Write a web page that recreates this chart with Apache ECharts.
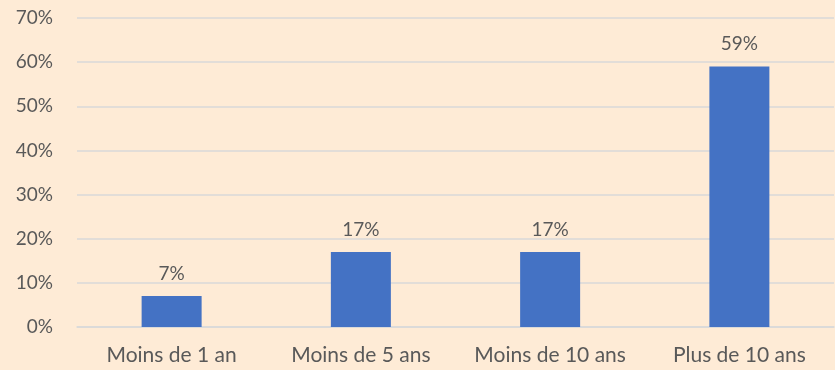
<!DOCTYPE html>
<html>
<head>
<meta charset="utf-8">
<script src="https://cdn.jsdelivr.net/npm/echarts@6/dist/echarts.min.js"></script>
<style>
  html, body { margin: 0; padding: 0; background: #FEEBD6; }
  #chart { width: 835px; height: 370px; }
</style>
</head>
<body>
<div id="chart"></div>
<script>
// Tranches d'ancienneté et part des répondants (%)
const categories = ['Moins de 1 an', 'Moins de 5 ans', 'Moins de 10 ans', 'Plus de 10 ans'];
const shares = [7, 17, 17, 59];
const yTicks = [0, 10, 20, 30, 40, 50, 60, 70];

const textColor = '#595959';
const fontFamily = 'Lato, "Open Sans", "Liberation Sans", sans-serif';

const chart = echarts.init(document.getElementById('chart'), null, { renderer: 'canvas' });
chart.setOption({
  backgroundColor: '#FEEBD6',
  animation: false,
  grid: { left: 77, right: 1, top: 18, bottom: 43, containLabel: false },
  xAxis: {
    type: 'category',
    data: categories,
    axisLine: { show: true, lineStyle: { color: '#D9D9D9', width: 1.5 } },
    axisTick: { show: false },
    axisLabel: { color: textColor, fontSize: 21, fontFamily, margin: 18, interval: 0, hideOverlap: false }
  },
  yAxis: {
    type: 'value',
    min: yTicks[0],
    max: yTicks[yTicks.length - 1],
    interval: 10,
    axisLine: { show: false },
    axisTick: { show: false },
    splitLine: { lineStyle: { color: '#D9D9D9', width: 1.5 } },
    axisLabel: { color: textColor, fontSize: 19, fontFamily, margin: 24, formatter: v => v + '%' }
  },
  series: [{
    type: 'bar',
    data: shares,
    barWidth: 60,
    itemStyle: { color: '#4472C4' },
    label: {
      show: true,
      position: 'top',
      distance: 13,
      color: textColor,
      fontSize: 19,
      fontFamily,
      formatter: p => p.value + '%'
    }
  }]
});
</script>
</body>
</html>
